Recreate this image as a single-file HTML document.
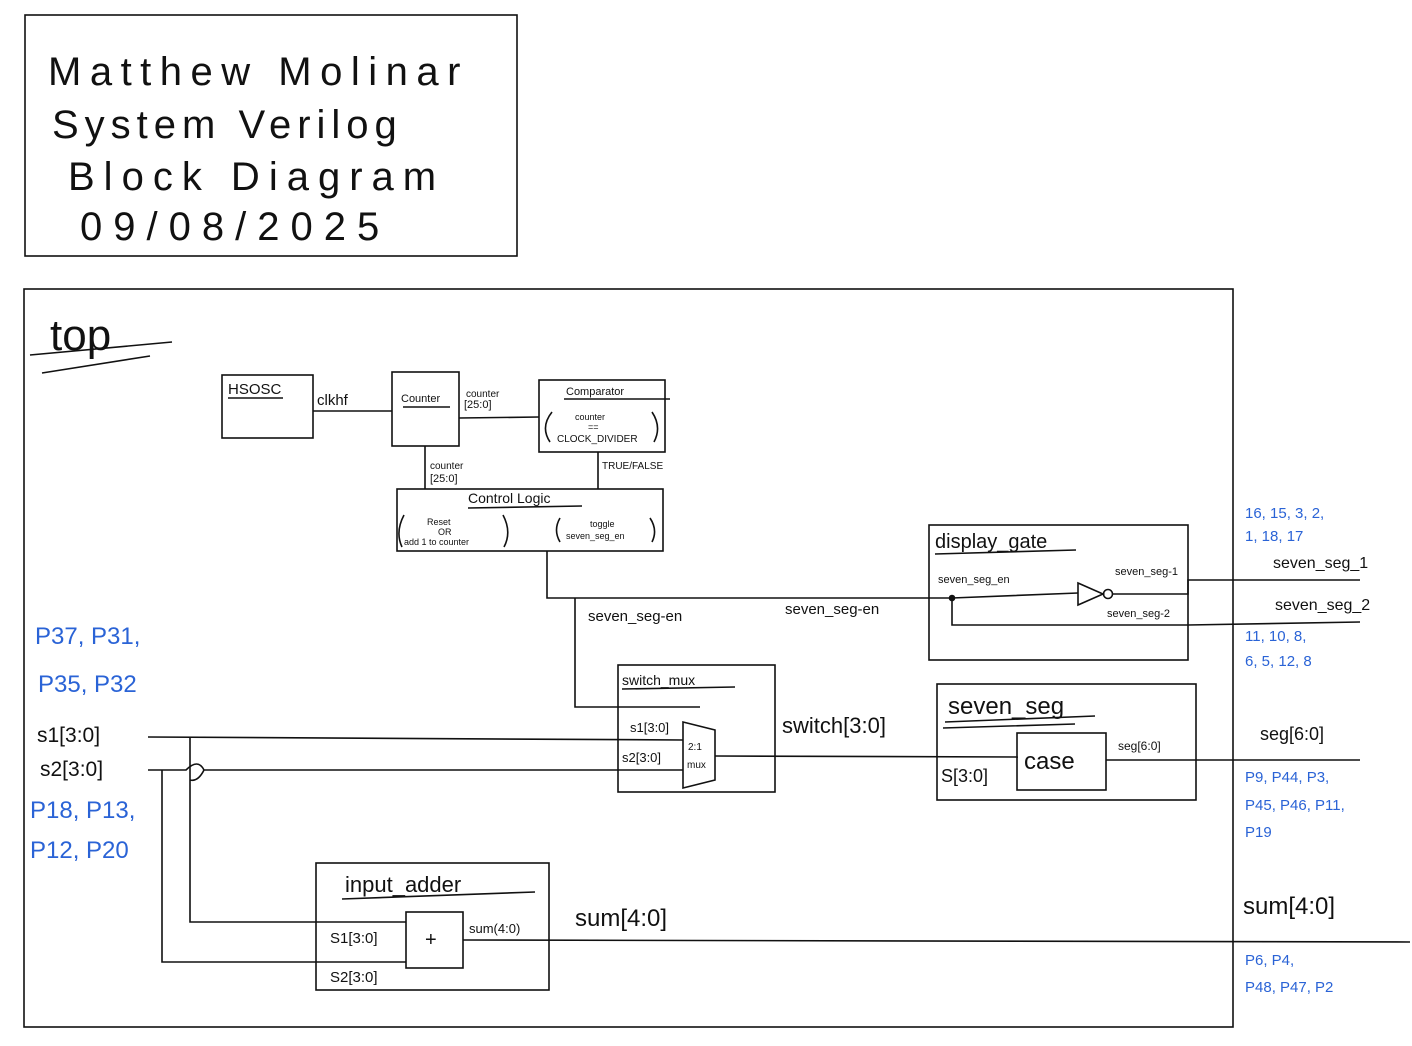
<!DOCTYPE html>
<html><head><meta charset="utf-8"><style>
html,body{margin:0;padding:0;background:#fff;width:1412px;height:1046px;overflow:hidden}
svg{display:block}
text{font-family:"Liberation Sans",sans-serif;fill:#111}
.b{fill:#2a63d6}
</style></head><body>
<svg width="1412" height="1046" viewBox="0 0 1412 1046" xmlns="http://www.w3.org/2000/svg" stroke="#111" stroke-width="1.6" fill="none">
<rect x="25" y="15" width="492" height="241"/>
<g stroke="none">
<text x="48" y="85" font-size="40" letter-spacing="8.5">Matthew Molinar</text>
<text x="52" y="138" font-size="40" letter-spacing="6">System Verilog</text>
<text x="68" y="190" font-size="40" letter-spacing="9">Block Diagram</text>
<text x="80" y="240" font-size="40" letter-spacing="11">09/08/2025</text>
</g>
<rect x="24" y="289" width="1209" height="738"/>
<text x="50" y="350" font-size="44" stroke="none">top</text>
<path d="M30 355 L172 342 M42 373 L150 356"/>
<rect x="222" y="375" width="91" height="63"/>
<text x="228" y="394" font-size="15" stroke="none">HSOSC</text>
<path d="M228 398 L283 398"/>
<text x="317" y="405" font-size="15" stroke="none">clkhf</text>
<path d="M313 411 L392 411"/>
<rect x="392" y="372" width="67" height="74"/>
<text x="401" y="402" font-size="11" stroke="none">Counter</text>
<path d="M403 407 L450 407"/>
<text x="466" y="397" font-size="10" stroke="none">counter</text>
<text x="464" y="408" font-size="11" stroke="none">[25:0]</text>
<path d="M459 418 L539 417"/>
<rect x="539" y="380" width="126" height="72"/>
<text x="566" y="395" font-size="11" stroke="none">Comparator</text>
<path d="M564 399 L670 399"/>
<text x="575" y="420" font-size="9" stroke="none">counter</text>
<text x="588" y="430" font-size="9" stroke="none">==</text>
<text x="557" y="442" font-size="10" stroke="none">CLOCK_DIVIDER</text>
<path d="M552 412 Q540 427 550 442 M652 412 Q662 427 654 442"/>
<path d="M425 446 L425 489 M598 452 L598 489"/>
<text x="430" y="469" font-size="10" stroke="none">counter</text>
<text x="430" y="482" font-size="11" stroke="none">[25:0]</text>
<text x="602" y="469" font-size="10" stroke="none">TRUE/FALSE</text>
<rect x="397" y="489" width="266" height="62"/>
<text x="468" y="503" font-size="14" stroke="none">Control Logic</text>
<path d="M468 508 L582 506"/>
<text x="427" y="525" font-size="9" stroke="none">Reset</text>
<text x="438" y="535" font-size="9" stroke="none">OR</text>
<text x="404" y="545" font-size="9" stroke="none">add 1 to counter</text>
<path d="M404 515 Q395 532 402 547 M503 515 Q512 532 504 547"/>
<text x="590" y="527" font-size="9" stroke="none">toggle</text>
<text x="566" y="539" font-size="9" stroke="none">seven_seg_en</text>
<path d="M560 518 Q553 530 560 542 M650 518 Q658 530 652 542"/>
<path d="M547 551 L547 598 L952 598 M575 598 L575 707 L700 707"/>
<text x="588" y="621" font-size="15" stroke="none">seven_seg-en</text>
<text x="785" y="614" font-size="15" stroke="none">seven_seg-en</text>
<rect x="929" y="525" width="259" height="135"/>
<text x="935" y="548" font-size="20" stroke="none">display_gate</text>
<path d="M935 554 L1076 550"/>
<text x="938" y="583" font-size="11" stroke="none">seven_seg_en</text>
<path d="M952 598 L1078 593 M952 598 L952 625 L1188 625 L1360 622"/>
<path d="M1078 583 L1078 605 L1103 594 Z"/>
<circle cx="1108" cy="594" r="4.5"/>
<path d="M1113 594 L1188 594 L1188 580 L1360 580"/>
<circle cx="952" cy="598" r="2.5" fill="#111"/>
<text x="1115" y="575" font-size="11" stroke="none">seven_seg-1</text>
<text x="1107" y="617" font-size="11" stroke="none">seven_seg-2</text>
<g stroke="none" font-size="15">
<text x="1245" y="518" class="b">16, 15, 3, 2,</text>
<text x="1245" y="541" class="b">1, 18, 17</text>
<text x="1273" y="568" font-size="16">seven_seg_1</text>
<text x="1275" y="610" font-size="16">seven_seg_2</text>
<text x="1245" y="641" class="b">11, 10, 8,</text>
<text x="1245" y="666" class="b">6, 5, 12, 8</text>
</g>
<rect x="618" y="665" width="157" height="127"/>
<text x="622" y="685" font-size="14" stroke="none">switch_mux</text>
<path d="M622 689 L735 687"/>
<path d="M683 722 L715 730 L715 780 L683 788 Z"/>
<text x="630" y="732" font-size="13" stroke="none">s1[3:0]</text>
<text x="622" y="762" font-size="13" stroke="none">s2[3:0]</text>
<text x="688" y="750" font-size="10" stroke="none">2:1</text>
<text x="687" y="768" font-size="10" stroke="none">mux</text>
<path d="M148 737 L683 740"/>
<path d="M148 770 L186 770 Q198 758 204 770 Q198 782 190 780 M204 770 L683 770"/>
<path d="M190 737 L190 922 L406 922 M162 770 L162 962 L406 962"/>
<path d="M715 756 L1018 757"/>
<text x="782" y="733" font-size="22" stroke="none">switch[3:0]</text>
<rect x="937" y="684" width="259" height="116"/>
<text x="948" y="714" font-size="24" stroke="none">seven_seg</text>
<path d="M945 722 L1095 716 M943 728 L1075 724"/>
<rect x="1017" y="733" width="89" height="57"/>
<text x="1024" y="769" font-size="24" stroke="none">case</text>
<text x="941" y="782" font-size="18" stroke="none">S[3:0]</text>
<text x="1118" y="750" font-size="12" stroke="none">seg[6:0]</text>
<path d="M1106 760 L1360 760"/>
<g stroke="none">
<text x="1260" y="740" font-size="18">seg[6:0]</text>
<text x="1245" y="782" font-size="15" class="b">P9, P44, P3,</text>
<text x="1245" y="810" font-size="15" class="b">P45, P46, P11,</text>
<text x="1245" y="837" font-size="15" class="b">P19</text>
<text x="35" y="644" font-size="24" class="b">P37, P31,</text>
<text x="38" y="692" font-size="24" class="b">P35, P32</text>
<text x="37" y="742" font-size="21">s1[3:0]</text>
<text x="40" y="776" font-size="21">s2[3:0]</text>
<text x="30" y="818" font-size="24" class="b">P18, P13,</text>
<text x="30" y="858" font-size="24" class="b">P12, P20</text>
</g>
<rect x="316" y="863" width="233" height="127"/>
<text x="345" y="892" font-size="22" stroke="none">input_adder</text>
<path d="M342 899 L535 892"/>
<rect x="406" y="912" width="57" height="56"/>
<text x="425" y="946" font-size="20" stroke="none">+</text>
<text x="330" y="943" font-size="15" stroke="none">S1[3:0]</text>
<text x="330" y="982" font-size="15" stroke="none">S2[3:0]</text>
<text x="469" y="933" font-size="13" stroke="none">sum(4:0)</text>
<path d="M463 940 L1410 942"/>
<text x="575" y="926" font-size="24" stroke="none">sum[4:0]</text>
<text x="1243" y="914" font-size="24" stroke="none">sum[4:0]</text>
<text x="1245" y="965" font-size="15" class="b" stroke="none">P6, P4,</text>
<text x="1245" y="992" font-size="15" class="b" stroke="none">P48, P47, P2</text>
</svg>
</body></html>
